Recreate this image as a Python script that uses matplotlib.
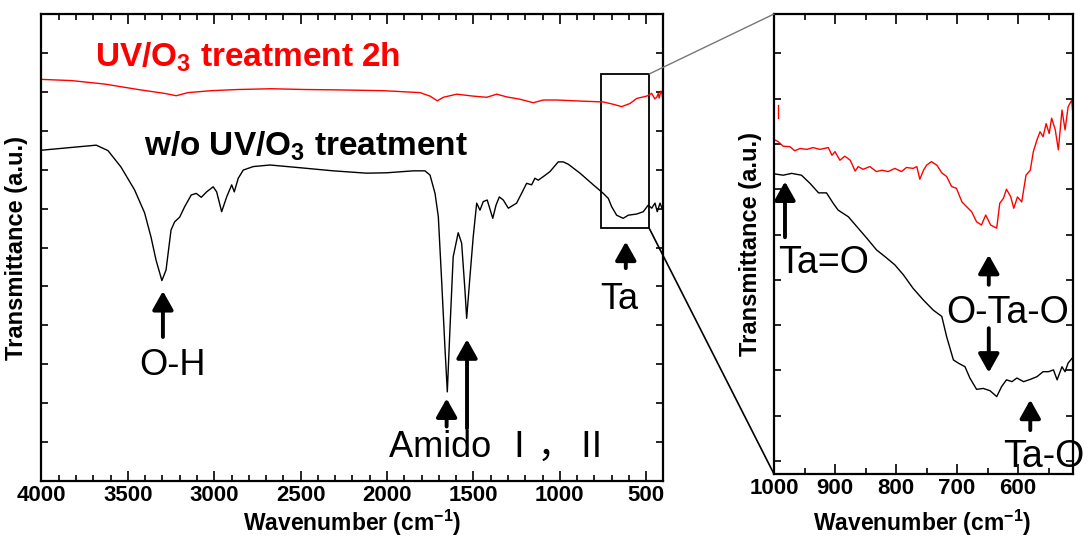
import matplotlib
matplotlib.use("Agg")
import matplotlib.pyplot as plt
from matplotlib.patches import Rectangle, ConnectionPatch

plt.rcParams['font.family'] = ['Liberation Sans', 'Noto Sans CJK JP', 'DejaVu Sans']
plt.rcParams['mathtext.fontset'] = 'custom'
plt.rcParams['mathtext.rm'] = 'Liberation Sans'
plt.rcParams['mathtext.bf'] = 'Liberation Sans:bold'
plt.rcParams['mathtext.it'] = 'Liberation Sans:italic'

# ---------------- data ----------------
# full spectrum, untreated (black)
black_wn = [4000, 3683, 3615, 3540, 3461, 3403, 3366, 3337, 3303, 3279, 3250, 3229, 3200, 3171, 3133,
            3104, 3075, 3044, 3006, 2986, 2957, 2928, 2899, 2884, 2861, 2832, 2774, 2677, 2504, 2311,
            2118, 2002, 1848, 1780, 1751, 1722, 1703, 1684, 1665, 1651, 1636, 1617, 1588, 1568, 1549,
            1539, 1520, 1501, 1481, 1462, 1443, 1420, 1388, 1369, 1350, 1327, 1298, 1250, 1211, 1192,
            1163, 1144, 1125, 1096, 1057, 1009, 980, 951, 883, 806, 748, 719, 700, 671, 633, 604, 555,
            517, 488, 468, 449, 436, 420, 400]
black_t = [8.50, 8.63, 8.49, 8.07, 7.48, 6.89, 6.27, 5.68, 5.15, 5.42, 6.45, 6.66, 6.78, 7.05, 7.35,
           7.39, 7.29, 7.43, 7.56, 7.43, 6.92, 7.30, 7.61, 7.43, 7.78, 7.99, 8.08, 8.12, 8.05, 7.97,
           7.91, 7.92, 7.97, 7.97, 7.86, 7.39, 6.79, 5.16, 3.45, 2.29, 3.88, 5.76, 6.38, 6.11, 4.91,
           4.18, 5.25, 6.28, 7.14, 6.96, 7.18, 7.22, 6.75, 7.09, 7.30, 7.22, 7.01, 7.14, 7.48, 7.65,
           7.61, 7.78, 7.73, 7.82, 7.95, 8.20, 8.20, 8.14, 7.91, 7.61, 7.39, 7.26, 7.05, 6.83, 6.75, 6.83,
           6.86, 6.92, 7.09, 7.01, 7.14, 6.92, 7.14, 6.92]

# full spectrum, UV/O3 2h (red)
red_wn = [4000, 3828, 3634, 3441, 3287, 3220, 3152, 3017, 2863, 2670, 2477, 2284, 2022, 1809, 1751,
          1709, 1674, 1597, 1501, 1423, 1365, 1307, 1230, 1153, 1096, 1018, 864, 748, 690, 642,
          594, 555, 497, 468, 450, 439, 430, 425, 415, 410, 405, 400]
red_t = [10.32, 10.29, 10.20, 10.06, 9.96, 9.90, 9.98, 10.03, 10.06, 10.08, 10.06, 10.05, 10.03, 9.98, 9.89,
         9.77, 9.86, 9.94, 9.89, 9.86, 9.94, 9.87, 9.81, 9.72, 9.79, 9.79, 9.76, 9.74, 9.68, 9.62,
         9.70, 9.83, 9.89, 9.96, 9.82, 9.86, 9.96, 9.84, 10.02, 10.00, 9.84, 9.87]

# zoomed region (right panel)
zoom_red_wn = [1000, 993, 985, 974, 966, 957, 946, 936, 925, 911, 905, 900, 892, 884, 875, 867, 862,
               854, 843, 832, 823, 813, 802, 791, 783, 772, 766, 761, 755, 750, 742, 733, 725, 717,
               709, 701, 692, 684, 676, 668, 660, 653, 645, 635, 630, 624, 619, 612, 607, 601, 594,
               587, 580, 575, 569, 564, 559, 554, 549, 545, 539, 534, 528, 523, 518, 512, 510]
zoom_red_t = [7.10, 7.05, 6.95, 6.94, 6.85, 6.90, 6.88, 6.92, 6.88, 6.92, 6.75, 6.83, 6.64, 6.73, 6.64,
              6.40, 6.50, 6.44, 6.50, 6.39, 6.42, 6.39, 6.46, 6.39, 6.48, 6.46, 6.50, 6.22, 6.42, 6.53,
              6.61, 6.53, 6.36, 6.28, 6.06, 6.02, 5.72, 5.61, 5.50, 5.28, 5.21, 5.43, 5.21, 5.14, 5.69,
              5.80, 6.00, 5.83, 5.58, 5.83, 5.72, 6.31, 6.42, 6.83, 7.09, 7.27, 7.16, 7.45, 7.23, 7.57,
              7.31, 6.87, 7.75, 7.31, 7.82, 7.97, 7.64]
zoom_red_spike_wn = [993, 993]
zoom_red_spike_t = [7.57, 7.86]

zoom_blk_wn = [1000, 985, 971, 955, 941, 927, 914, 903, 895, 878, 864, 848, 832, 818, 802, 788, 772,
               755, 739, 725, 717, 706, 698, 687, 679, 668, 657, 646, 635, 627, 619, 610, 602, 591,
               580, 569, 559, 550, 542, 536, 528, 523, 518, 510]
zoom_blk_t = [6.34, 6.31, 6.35, 6.31, 6.13, 5.92, 5.92, 5.69, 5.54, 5.39, 5.17, 4.92, 4.66, 4.51, 4.33,
              4.11, 3.81, 3.55, 3.33, 3.19, 2.74, 2.23, 2.16, 2.08, 1.83, 1.58, 1.60, 1.55, 1.42, 1.64,
              1.79, 1.75, 1.83, 1.75, 1.80, 1.86, 1.97, 1.97, 2.01, 1.79, 2.08, 1.97, 2.16, 2.29]

left_xticks = [4000, 3500, 3000, 2500, 2000, 1500, 1000, 500]
right_xticks = [1000, 900, 800, 700, 600]

# ---------------- figure ----------------
fig = plt.figure(figsize=(10.88, 5.37), dpi=100)
ax1 = fig.add_axes([0.0381, 0.1043, 0.5717, 0.8696])
ax2 = fig.add_axes([0.7114, 0.1173, 0.2748, 0.8566])

lw_data = 1.0
ax1.plot(black_wn, black_t, color='black', lw=lw_data)
ax1.plot(red_wn, red_t, color='#ff0000', lw=lw_data)
ax2.plot(zoom_blk_wn, zoom_blk_t, color='black', lw=lw_data)
ax2.plot(zoom_red_wn, zoom_red_t, color='#ff0000', lw=lw_data)
ax2.plot(zoom_red_spike_wn, zoom_red_spike_t, color='#ff0000', lw=lw_data)

ax1.set_xlim(4000, 400)
ax1.set_ylim(0, 12)
ax2.set_xlim(1000, 510)
ax2.set_ylim(-0.29, 9.87)

for ax in (ax1, ax2):
    for s in ax.spines.values():
        s.set_linewidth(1.6)
    ax.tick_params(axis='both', which='both', direction='in', top=True, right=True, width=1.2)
    ax.tick_params(axis='x', which='major', length=7, pad=3)
    ax.tick_params(axis='x', which='minor', length=4.5)
    ax.tick_params(axis='y', which='major', length=5, labelleft=False)

ax1.set_xticks(left_xticks)
ax1.set_xticks(range(3900, 400, -100), minor=True)
ax1.set_yticks(range(0, 13))
ax2.set_xticks(right_xticks)
ax2.set_xticks([950, 850, 750, 650, 550], minor=True)
ax2.set_yticks(range(0, 10))

for ax in (ax1, ax2):
    ax.set_xticklabels([str(v) for v in ax.get_xticks()], fontsize=16, fontweight='bold')
    ax.set_xlabel('Wavenumber (cm$^{\\mathbf{-1}}$)', fontsize=16.5, fontweight='bold')
    ax.set_ylabel('Transmittance (a.u.)', fontsize=17, fontweight='bold')

ax1.xaxis.set_label_coords(0.5, -0.058)
ax2.xaxis.set_label_coords(0.495, -0.074)
ax1.yaxis.set_label_coords(-0.022, 0.5)
ax2.yaxis.set_label_coords(-0.040, 0.5)

# ---------------- annotations ----------------
ax1.text(3690, 10.65, 'UV/O$_\\mathbf{3}$ treatment 2h', color='#ff0000', fontsize=24,
         fontweight='bold', ha='left', va='baseline')
ax1.text(3404, 8.35, 'w/o UV/O$_\\mathbf{3}$ treatment', color='black', fontsize=24,
         fontweight='bold', ha='left', va='baseline')

arrow = dict(arrowstyle='-|>,head_length=0.8,head_width=0.45', lw=2.8, color='black',
             mutation_scale=14, shrinkA=0, shrinkB=0)

ax1.annotate('', xy=(3297, 4.88), xytext=(3297, 3.70), arrowprops=arrow)
ax1.text(3432, 2.72, 'O-H', fontsize=26, ha='left', va='baseline')

ax1.annotate('', xy=(1655, 2.12), xytext=(1655, 1.40), arrowprops=arrow)
ax1.annotate('', xy=(1537, 3.64), xytext=(1537, 1.35), arrowprops=arrow)
ax1.text(1989, 0.62, 'Amido Ⅰ，Ⅱ', fontsize=26, ha='left', va='baseline')

ax1.annotate('', xy=(618, 6.15), xytext=(618, 5.47), arrowprops=arrow)
ax1.text(764, 4.41, 'Ta', fontsize=26, ha='left', va='baseline')

ax1.add_patch(Rectangle((762, 6.49), 482 - 762, 10.46 - 6.49, fill=False, ec='black', lw=1.3))

con1 = ConnectionPatch(xyA=(482, 10.46), coordsA=ax1.transData, xyB=(0, 1), coordsB=ax2.transAxes,
                       color='#777777', lw=1.0)
con2 = ConnectionPatch(xyA=(482, 6.49), coordsA=ax1.transData, xyB=(0, 0), coordsB=ax2.transAxes,
                       color='black', lw=1.2)
fig.add_artist(con1)
fig.add_artist(con2)

ax2.annotate('', xy=(982, 6.17), xytext=(982, 4.94), arrowprops=arrow)
ax2.text(993, 4.16, 'Ta=O', fontsize=27, ha='left', va='baseline')

ax2.annotate('', xy=(648, 4.55), xytext=(648, 3.89), arrowprops=arrow)
ax2.annotate('', xy=(648, 1.95), xytext=(648, 2.93), arrowprops=arrow)
ax2.text(717, 3.04, 'O-Ta-O', fontsize=27, ha='left', va='baseline', clip_on=False)

ax2.annotate('', xy=(580, 1.35), xytext=(580, 0.68), arrowprops=arrow)
ax2.text(625, -0.14, 'Ta-O', fontsize=27, ha='left', va='baseline', clip_on=False)

fig.savefig('out.png', dpi=100)
